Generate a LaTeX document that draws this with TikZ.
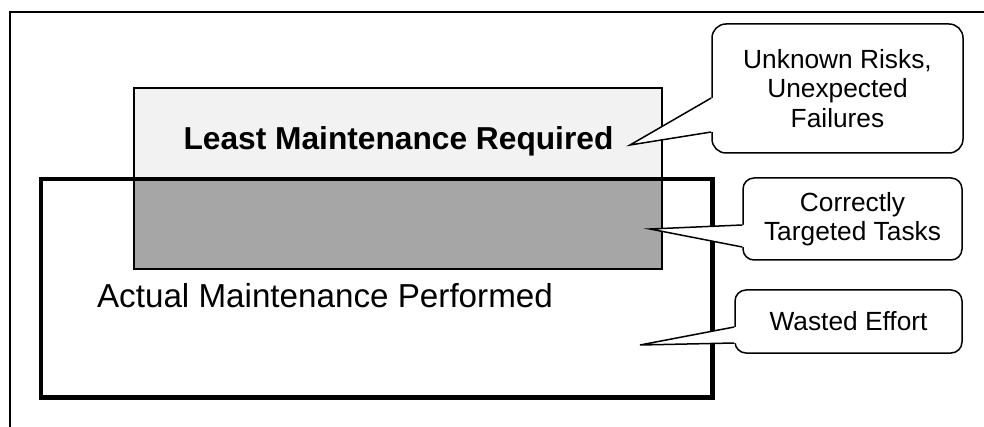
\documentclass[tikz,border=0pt]{standalone}
\usepackage{fontspec}
\setmainfont{Liberation Sans}
\usetikzlibrary{calc}
\definecolor{leastfill}{HTML}{F2F2F2}
\definecolor{overlapfill}{HTML}{A6A6A6}
\tikzset{
  bubble/.style={draw, line width=1.5pt, fill=white, rounded corners=11pt,
    align=center, inner sep=0pt, font=\fontsize{26.3}{29.5}\selectfont},
  pointer/.style={line width=1.5pt, line join=miter},
}

\begin{document}
\begin{tikzpicture}[x=1pt,y=-1pt]
  \useasboundingbox (0,0) rectangle (984,427);
  % outer frame, only top and left edges fall on the page
  \draw[line width=1.5pt] (10,427) -- (10,12) -- (984,12);

  % least maintenance box, lower part shaded where the two overlap
  \fill[leastfill] (134,88) rectangle (662,269);
  \fill[overlapfill] (134,179) rectangle (662,269);
  \draw[line width=1.5pt] (134,88) rectangle (662,269);
  \node[anchor=base, inner sep=0pt, font=\bfseries\fontsize{31.7}{36}\selectfont]
    (least) at (398.5,150) {Least Maintenance Required};

  % actual maintenance box
  \draw[line width=4.5pt] (41,179) rectangle (712.5,397.5);
  \node[anchor=base, inner sep=0pt, font=\fontsize{33.2}{38}\selectfont]
    (actual) at (325,308) {Actual Maintenance Performed};

  % callouts
  \node[bubble, rounded corners=14pt, minimum width=251pt, minimum height=129pt]
    (risks) at (837.5,88.5) {Unknown Risks,\\Unexpected\\Failures};
  \node[bubble, minimum width=219pt, minimum height=82pt]
    (tasks) at (852.5,219) {Correctly\\Targeted Tasks};
  \node[bubble, minimum width=227pt, minimum height=63pt]
    (waste) at (848.5,321.5) {Wasted Effort};

  \coordinate (risks tip) at (630,145);
  \coordinate (tasks tip) at (650,229);
  \coordinate (waste tip) at (640,345);
  \coordinate (risks a) at ([yshift=-9.5pt]risks.west);
  \coordinate (risks b) at ([yshift=-43.5pt]risks.west);
  \coordinate (tasks a) at ([yshift=-6pt]tasks.west);
  \coordinate (tasks b) at ([yshift=-28pt]tasks.west);
  \coordinate (waste a) at ([yshift=-5.5pt]waste.west);
  \coordinate (waste b) at ([yshift=-21.5pt]waste.west);

  \foreach \c in {risks,tasks,waste}{
    \fill[white] (\c\space a) -- (\c\space tip) -- (\c\space b)
      -- ([xshift=3pt]\c\space b) -- ([xshift=3pt]\c\space a) -- cycle;
    \draw[pointer] (\c\space a) -- (\c\space tip) -- (\c\space b);
  }
\end{tikzpicture}
\end{document}
